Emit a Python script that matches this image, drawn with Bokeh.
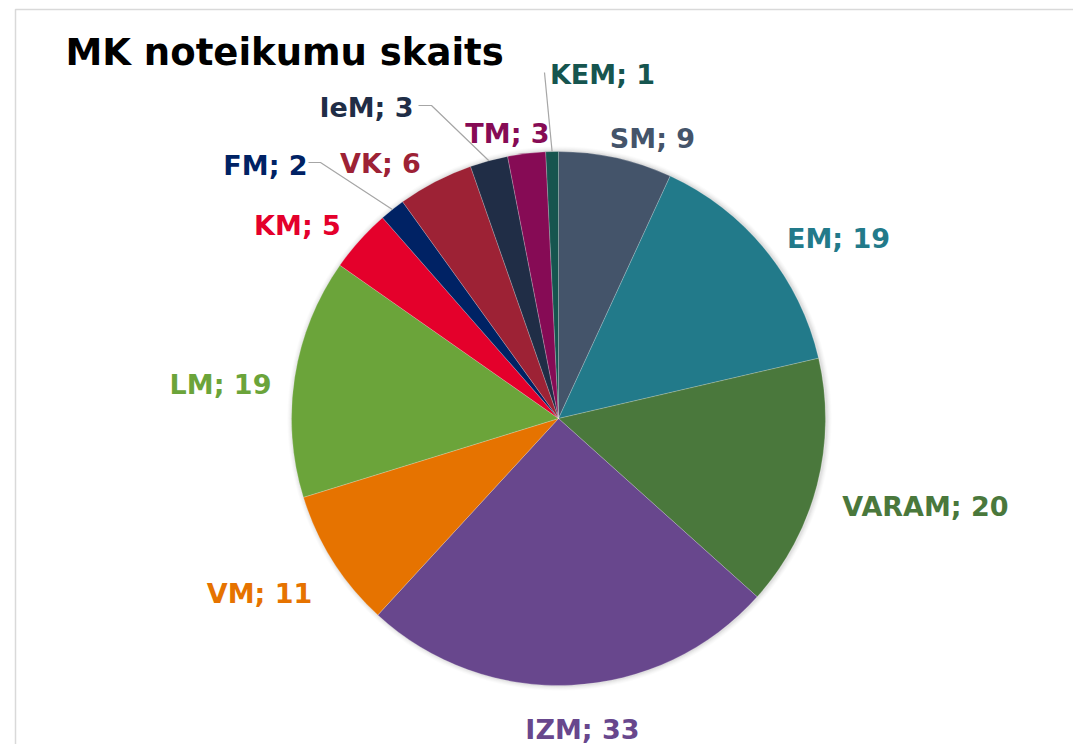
import math
from bokeh.plotting import figure
from bokeh.models import Range1d, ColumnDataSource
from bokeh.core.properties import value
from bokeh.embed import file_html
from bokeh.resources import INLINE

# ---- data ----
categories = ["SM", "EM", "VARAM", "IZM", "VM", "LM", "KM", "FM", "VK", "IeM", "TM", "KEM"]
counts = [9, 19, 20, 33, 11, 19, 5, 2, 6, 3, 3, 1]
colors = ["#44546A", "#227A8A", "#4A783C", "#68478D", "#E67300", "#6BA43A",
          "#E4002B", "#002264", "#9D2235", "#202D46", "#860B55", "#16554F"]
title_text = "MK noteikumu skaits"

# ---- layout (screen pixels) ----
W, H = 1073, 744
CX, CY, R = 558, 418, 267
# label anchor (center x, baseline y) in screen pixels
label_pos = {
    "SM": (652, 138), "EM": (838, 238), "VARAM": (925, 506), "IZM": (582, 729),
    "VM": (259, 593), "LM": (220, 384), "KM": (297, 225), "FM": (265, 165),
    "VK": (380, 163), "IeM": (366, 107), "TM": (507, 133), "KEM": (602, 74),
}
# leader lines: list of screen points before the pie edge point
leaders = {
    "FM": [(308, 162), (320, 162)],
    "IeM": [(418, 105), (431, 105)],
    "KEM": [(544, 72)],
}

def sy(y):
    return -y

p = figure(width=W, height=H, output_backend="svg", toolbar_location=None,
           x_range=Range1d(0, W), y_range=Range1d(-H, 0),
           min_border=0, x_axis_type=None, y_axis_type=None)
p.outline_line_color = None
p.grid.visible = False
p.background_fill_color = "white"
p.border_fill_color = "white"

# chart-area border
p.line([15, 15, 1100], [sy(800), sy(9), sy(9)], line_color="#D9D9D9", line_width=1.5)

# soft shadow around pie
for k, a in [(5, 0.03), (4, 0.04), (3, 0.05), (2, 0.07), (1, 0.09)]:
    p.circle([CX + 1], [sy(CY - 1) - 1], radius=R + k, fill_color="#808080",
             fill_alpha=a, line_color=None)

total = sum(counts)
starts, ends, mids = [], [], []
cum = 0
for c in counts:
    a0 = math.pi / 2 - 2 * math.pi * cum / total
    a1 = math.pi / 2 - 2 * math.pi * (cum + c) / total
    starts.append(a0)
    ends.append(a1)
    mids.append((a0 + a1) / 2)
    cum += c

src = ColumnDataSource(dict(x=[CX] * len(counts), y=[sy(CY)] * len(counts),
                            start=starts, end=ends, color=colors))
p.wedge(x="x", y="y", radius=R, start_angle="start", end_angle="end",
        direction="clock", fill_color="color", line_color="white",
        line_width=0.6, line_alpha=0.35, source=src)

# leader lines
for cat, pts in leaders.items():
    i = categories.index(cat)
    ex = CX + R * math.cos(mids[i])
    ey = CY - R * math.sin(mids[i])
    xs = [q[0] for q in pts] + [ex]
    ys = [sy(q[1]) for q in pts] + [sy(ey)]
    p.line(xs, ys, line_color="#A6A6A6", line_width=1.2)

# labels
lx = [label_pos[c][0] for c in categories]
ly = [sy(label_pos[c][1]) for c in categories]
texts = [f"{c}; {v}" for c, v in zip(categories, counts)]
lsrc = ColumnDataSource(dict(x=lx, y=ly, t=texts, color=colors))
p.text(x="x", y="y", text="t", text_color="color", source=lsrc,
       text_font=value("DejaVu Sans"), text_font_style="bold",
       text_font_size="27px", text_align="center", text_baseline="alphabetic")

# title
p.text(x=[65], y=[sy(52)], text=[title_text], text_color="black",
       text_font=value("DejaVu Sans"), text_font_style="bold",
       text_font_size="37px", text_align="left", text_baseline="alphabetic")

open("out.html", "w").write(file_html(p, INLINE))
